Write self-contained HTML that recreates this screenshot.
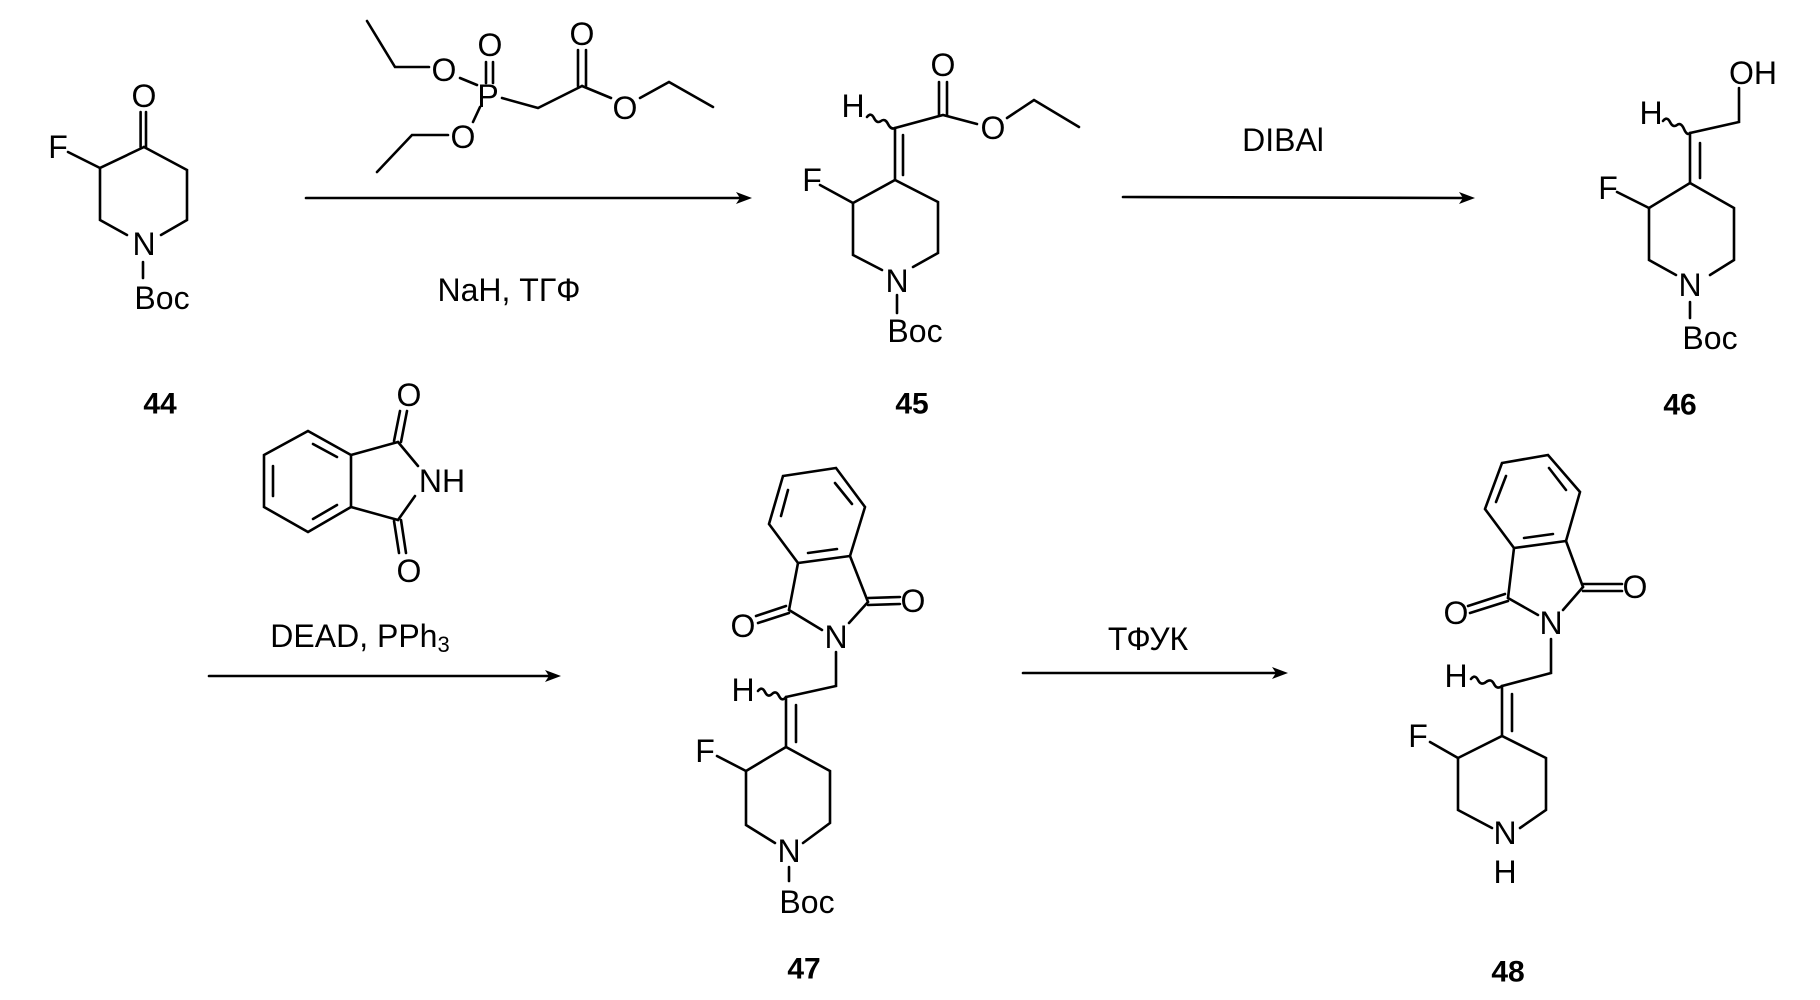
<!DOCTYPE html>
<html><head><meta charset="utf-8"><style>
html,body{margin:0;padding:0;background:#fff;}
svg{display:block;}
text{font-family:"Liberation Sans Narrow","Liberation Sans",sans-serif;font-size:32px;fill:#000;}
.b{font-weight:bold;font-size:30px;}
</style></head><body>
<svg width="1820" height="1000" viewBox="0 0 1820 1000" xmlns="http://www.w3.org/2000/svg">
<g stroke="#000" stroke-width="2.6" fill="none" stroke-linecap="round">
<!-- 44 -->
<line x1="140.6" y1="112" x2="140.6" y2="147"/><line x1="146" y1="112" x2="146" y2="147"/>
<polyline points="144,147 187,170 187,220 161,235"/>
<polyline points="144,147 100,168 100,220 127,235"/>
<line x1="68" y1="152" x2="100" y2="168"/>
<line x1="143" y1="262" x2="143" y2="278"/>
<!-- phosphonate -->
<polyline points="367,21 395,67 429,67"/>
<line x1="460" y1="78" x2="477" y2="85"/>
<line x1="486" y1="62" x2="486" y2="83"/><line x1="493" y1="62" x2="493" y2="83"/>
<line x1="480" y1="107" x2="473" y2="122"/>
<polyline points="448,135 412,135 377,172"/>
<polyline points="502,98 538,108 582,86"/>
<line x1="578" y1="50" x2="578" y2="86"/><line x1="586" y1="50" x2="586" y2="86"/>
<line x1="582" y1="86" x2="611" y2="98"/>
<polyline points="640,98 669,82 713,107"/>
<!-- arrow 1 -->
<line x1="306" y1="198" x2="740" y2="198"/>
<!-- 45 -->
<line x1="939" y1="82" x2="939" y2="115"/><line x1="947" y1="82" x2="947" y2="115"/>
<polyline points="895,128 943,115 977,124"/>
<polyline points="1007,118 1034,100 1079,127"/>
<path d="M867 117 q4 -5 7 1 t7 3 t7 3 t7 4"/>
<line x1="895" y1="128" x2="895" y2="180"/><line x1="903" y1="135" x2="903" y2="175"/>
<polyline points="882,270 853,255 853,203 895,180 938,202 938,253 913,267"/>
<line x1="820" y1="185" x2="853" y2="203"/>
<line x1="897" y1="295" x2="897" y2="313"/>
<!-- arrow 2 -->
<line x1="1123" y1="197" x2="1462" y2="198"/>
<!-- 46 -->
<polyline points="1739,88 1739,122 1690,133"/>
<path d="M1663 121 q4 -5 7 1 t7 3 t7 4 t6 4"/>
<line x1="1690" y1="133" x2="1690" y2="183"/><line x1="1700" y1="143" x2="1700" y2="178"/>
<polyline points="1676,275 1649,260 1649,208 1690,183 1734,208 1734,260 1710,275"/>
<line x1="1617" y1="192" x2="1649" y2="208"/>
<line x1="1690" y1="302" x2="1690" y2="318"/>
<!-- phthalimide reagent -->
<polygon points="308,431 351,455 351,507 308,532 264,507 264,455"/>
<line x1="313" y1="444" x2="337" y2="457"/><line x1="337" y1="505" x2="313" y2="519"/><line x1="273" y1="466" x2="273" y2="496"/>
<line x1="351" y1="455" x2="398" y2="442"/><line x1="351" y1="507" x2="398" y2="520"/>
<line x1="398" y1="442" x2="418" y2="466"/><line x1="415" y1="496" x2="398" y2="520"/>
<line x1="401" y1="442" x2="407" y2="411"/><line x1="394" y1="441" x2="400" y2="411"/>
<line x1="401" y1="520" x2="406" y2="553"/><line x1="394" y1="521" x2="399" y2="553"/>
<!-- arrow 3 -->
<line x1="209" y1="676" x2="550" y2="676"/>
<!-- 47 -->
<polygon points="783,476 836,468 865,507 850,556 798,563 769,524"/>
<line x1="781" y1="516" x2="788" y2="490"/><line x1="835" y1="483" x2="852" y2="504"/><line x1="837" y1="549" x2="808" y2="553"/>
<line x1="798" y1="563" x2="789" y2="610"/><line x1="850" y1="556" x2="868" y2="602"/>
<line x1="789" y1="610" x2="822" y2="630"/><line x1="868" y1="602" x2="849" y2="623"/>
<line x1="789" y1="613" x2="758" y2="623"/><line x1="786" y1="606" x2="756" y2="616"/>
<line x1="868" y1="598" x2="900" y2="597"/><line x1="868" y1="605" x2="900" y2="604"/>
<polyline points="836,652 836,686 786,697"/>
<path d="M758 691 q4 -5 7 1 t7 2 t7 2 t7 1"/>
<line x1="786" y1="697" x2="786" y2="747"/><line x1="796" y1="705" x2="796" y2="742"/>
<polyline points="775,843 746,825 746,771 786,747 830,771 830,823 803,843"/>
<line x1="717" y1="756" x2="746" y2="771"/>
<line x1="789" y1="867" x2="789" y2="881"/>
<!-- arrow 4 -->
<line x1="1023" y1="673" x2="1276" y2="673"/>
<!-- 48 -->
<polygon points="1502,463 1548,455 1580,492 1566,541 1514,548 1485,509"/>
<line x1="1496" y1="502" x2="1506" y2="476"/><line x1="1549" y1="468" x2="1566" y2="490"/><line x1="1553" y1="534" x2="1524" y2="538"/>
<line x1="1514" y1="548" x2="1508" y2="598"/><line x1="1566" y1="541" x2="1583" y2="587"/>
<line x1="1508" y1="598" x2="1538" y2="615"/><line x1="1583" y1="587" x2="1563" y2="610"/>
<line x1="1508" y1="601" x2="1470" y2="613"/><line x1="1505" y1="594" x2="1468" y2="606"/>
<line x1="1583" y1="584" x2="1622" y2="584"/><line x1="1583" y1="591" x2="1622" y2="591"/>
<polyline points="1551,639 1551,673 1502,686"/>
<path d="M1471 679 q4 -5 7 1 t8 2 t8 2 t8 2"/>
<line x1="1502" y1="686" x2="1502" y2="736"/><line x1="1512" y1="694" x2="1512" y2="731"/>
<polyline points="1492,828 1458,810 1458,758 1502,736 1546,758 1546,810 1520,828"/>
<line x1="1430" y1="742" x2="1458" y2="758"/>
</g>
<g fill="#000">
<polygon points="752,198 736,192 740,198 736,204"/>
<polygon points="1475,198 1459,192 1463,198 1459,204"/>
<polygon points="561,676 545,670 549,676 545,682"/>
<polygon points="1288,673 1272,667 1276,673 1272,679"/>
</g>
<g text-anchor="middle" dominant-baseline="central">
<!-- 44 -->
<text x="144" y="96">O</text><text x="58" y="147">F</text><text x="144" y="244">N</text><text x="162" y="298">Boc</text>
<text class="b" x="160" y="404">44</text>
<!-- phosphonate -->
<text x="444" y="70">O</text><text x="488" y="96">P</text><text x="490" y="45">O</text><text x="463" y="137">O</text>
<text x="582" y="34">O</text><text x="625" y="108">O</text>
<text x="509" y="290">NaH, ТГФ</text>
<!-- 45 -->
<text x="943" y="65">O</text><text x="993" y="128">O</text><text x="853" y="106">H</text><text x="812" y="180">F</text>
<text x="897" y="281">N</text><text x="915" y="331">Boc</text><text class="b" x="912" y="404">45</text>
<text x="1283" y="140">DIBAl</text>
<!-- 46 -->
<text x="1753" y="73">OH</text><text x="1651" y="113">H</text><text x="1608" y="188">F</text>
<text x="1690" y="285">N</text><text x="1710" y="338">Boc</text><text class="b" x="1680" y="405">46</text>
<!-- reagent phthalimide -->
<text x="409" y="395">O</text><text x="442" y="481">NH</text><text x="409" y="571">O</text>
<text x="360" y="636">DEAD, PPh<tspan font-size="22" dy="8">3</tspan></text>
<!-- 47 -->
<text x="743" y="626">O</text><text x="913" y="601">O</text><text x="836" y="637">N</text>
<text x="743" y="690">H</text><text x="705" y="751">F</text><text x="789" y="851">N</text>
<text x="807" y="902">Boc</text><text class="b" x="804" y="969">47</text>
<text x="1148" y="639">ТФУК</text>
<!-- 48 -->
<text x="1456" y="613">O</text><text x="1635" y="587">O</text><text x="1551" y="623">N</text>
<text x="1456" y="676">H</text><text x="1418" y="736">F</text><text x="1505" y="833">N</text>
<text x="1505" y="872">H</text><text class="b" x="1508" y="972">48</text>
</g>
</svg>
</body></html>
